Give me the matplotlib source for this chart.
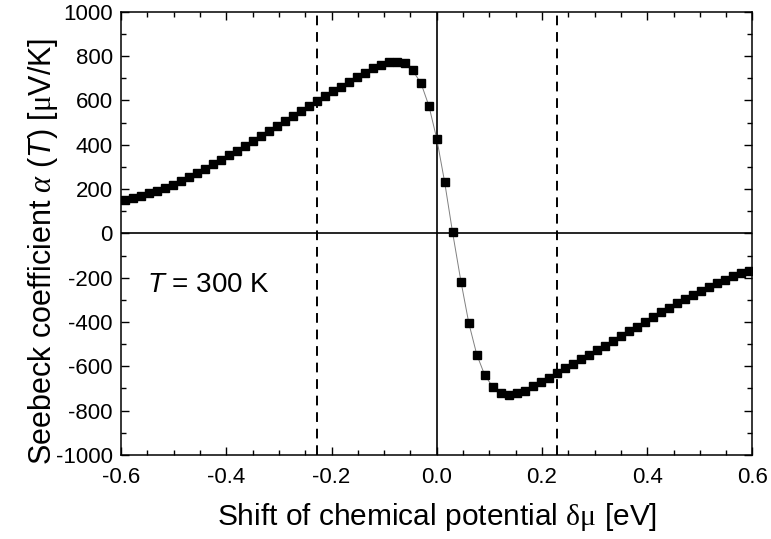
import numpy as np
import matplotlib
matplotlib.use("Agg")
import matplotlib.pyplot as plt
from matplotlib.ticker import MultipleLocator

plt.rcParams['font.family'] = ['Liberation Sans', 'DejaVu Sans']
plt.rcParams['axes.unicode_minus'] = False
plt.rcParams['mathtext.fontset'] = 'custom'
plt.rcParams['mathtext.rm'] = 'Liberation Serif'
plt.rcParams['mathtext.it'] = 'Liberation Serif:italic'
plt.rcParams['mathtext.sf'] = 'Liberation Sans:italic'

# shift of chemical potential (eV)
mu = [-0.593, -0.578, -0.563, -0.547, -0.532, -0.517, -0.502, -0.487, -0.471, -0.456,
      -0.441, -0.426, -0.410, -0.395, -0.380, -0.365, -0.350, -0.334, -0.319, -0.304,
      -0.289, -0.274, -0.258, -0.243, -0.228, -0.213, -0.198, -0.182, -0.167, -0.152,
      -0.137, -0.122, -0.106, -0.091, -0.076, -0.061, -0.046, -0.030, -0.015, 0.000,
      0.015, 0.030, 0.046, 0.061, 0.076, 0.091, 0.106, 0.122, 0.137, 0.152,
      0.167, 0.182, 0.198, 0.213, 0.228, 0.243, 0.258, 0.274, 0.289, 0.304,
      0.319, 0.334, 0.350, 0.365, 0.380, 0.395, 0.410, 0.426, 0.441, 0.456,
      0.471, 0.487, 0.502, 0.517, 0.532, 0.547, 0.563, 0.578, 0.593]
# Seebeck coefficient (uV/K)
seebeck = [150, 160, 169, 181, 193, 205, 220, 237, 253, 273,
           291, 311, 332, 353, 374, 396, 417, 440, 461, 484,
           506, 529, 553, 576, 598, 619, 642, 663, 685, 707,
           726, 745, 762, 772, 775, 768, 736, 678, 576, 427,
           231, 5, -218, -406, -547, -639, -692, -720, -728, -722,
           -710, -690, -672, -652, -632, -607, -589, -568, -547, -526,
           -508, -484, -463, -442, -421, -400, -376, -356, -335, -316,
           -296, -278, -260, -242, -224, -209, -192, -178, -168]

band_edges = [-0.228, 0.228]

fig = plt.figure(figsize=(7.71, 5.39), dpi=100)
ax = fig.add_axes([0.157, 0.156, 0.819, 0.822])

ax.plot(mu, seebeck, color='gray', lw=0.7, zorder=2)
ax.plot(mu, seebeck, ls='none', marker='s', ms=6, color='black', zorder=3)

ax.axhline(0, color='black', lw=1.2, zorder=1)
ax.axvline(0, color='black', lw=1.2, zorder=1)
for e in band_edges:
    ax.axvline(e, color='black', lw=1.4, ls=(0, (5, 3.5)), zorder=1)

ax.text(-0.55, -232, r'$\mathsf{T}$ = 300 K', fontsize=20, va='center')

ax.set_xlim(-0.6, 0.6)
ax.set_ylim(-1000, 1000)
ax.xaxis.set_major_locator(MultipleLocator(0.2))
ax.xaxis.set_minor_locator(MultipleLocator(0.05))
ax.yaxis.set_major_locator(MultipleLocator(200))
ax.yaxis.set_minor_locator(MultipleLocator(100))
ax.set_xticklabels([f'{v:.1f}' for v in ax.get_xticks()])
ax.tick_params(which='both', direction='in', top=True, right=True, labelsize=16)
ax.tick_params(axis='x', which='major', pad=9)
ax.tick_params(axis='y', which='major', pad=6)
ax.tick_params(which='major', length=6, width=1)
ax.tick_params(which='minor', length=3.5, width=1)
for s in ax.spines.values():
    s.set_linewidth(1.1)

ax.set_xlabel(r'Shift of chemical potential $\mathrm{\delta\mu}$ [eV]', fontsize=21.5, labelpad=9)
ax.set_ylabel(r'Seebeck coefficient $\alpha$ ($\mathsf{T}$) [$\mathrm{\mu}$V/K]', fontsize=22)
ax.yaxis.set_label_coords(-0.097, 0.46)

fig.savefig('out.png', dpi=100)
